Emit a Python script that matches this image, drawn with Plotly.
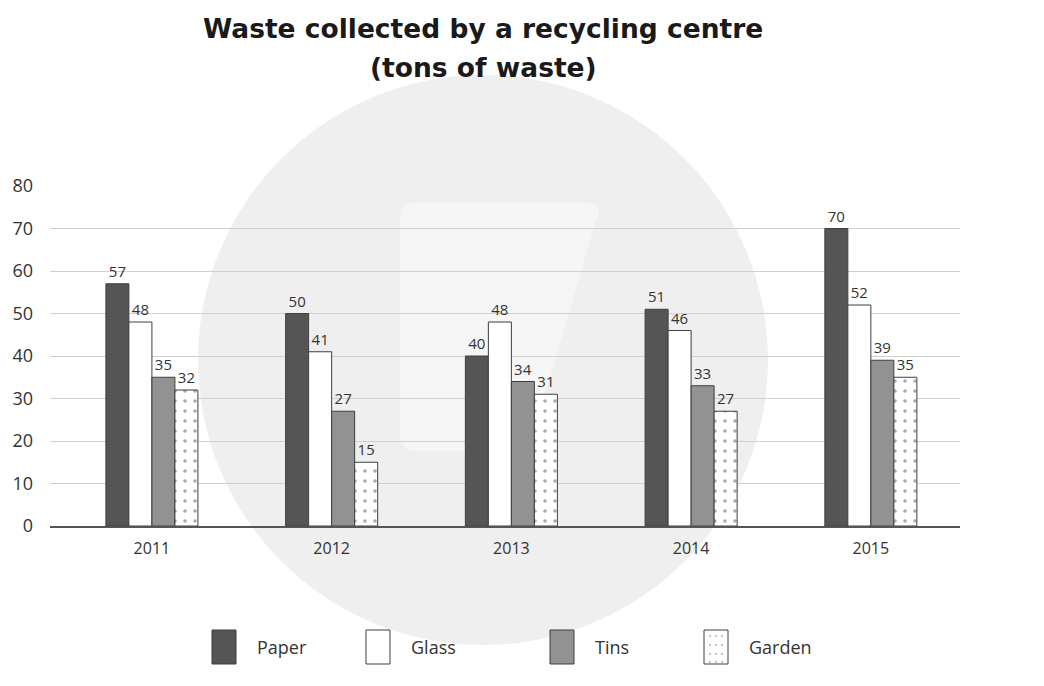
import plotly.graph_objects as go

years = ["2011", "2012", "2013", "2014", "2015"]
paper = [57, 50, 40, 51, 70]
glass = [48, 41, 48, 46, 52]
tins = [35, 27, 34, 33, 39]
garden = [32, 15, 31, 27, 35]
y_ticks = [0, 10, 20, 30, 40, 50, 60, 70, 80]
series_names = ["Paper", "Glass", "Tins", "Garden"]

W, H = 1044, 686
L, R, T, B = 50, 84, 186, 160
PW, PH = W - L - R, H - T - B


def px(x):
    return (x - L) / PW


def py(y):
    return (H - B - y) / PH


fig = go.Figure()
outline = dict(color="#3f3f3f", width=1)
dot_pattern = dict(shape=".", fgcolor="#555555", bgcolor="#ffffff", size=10, solidity=0.1)
markers = [
    dict(color="#555555", line=outline),
    dict(color="#ffffff", line=outline),
    dict(color="#929292", line=outline),
    dict(color="#ffffff", line=outline, pattern=dot_pattern),
]
for name, vals, marker in zip(series_names, [paper, glass, tins, garden], markers):
    fig.add_trace(go.Bar(
        name=name, x=years, y=vals, marker=marker,
        text=[str(v) for v in vals], textposition="outside",
        textfont=dict(family="Open Sans", size=15, color="#333333"),
        cliponaxis=False, showlegend=False,
    ))

# faint watermark circle in background
fig.add_shape(type="circle", xref="paper", yref="paper",
              x0=px(198), x1=px(768), y0=py(645), y1=py(75),
              fillcolor="#efefef", line=dict(width=0), layer="below")
fig.add_shape(type="path", xref="paper", yref="paper",
              path="M 0.40,0.95 L 0.59,0.95 Q 0.61,0.95 0.60,0.90 L 0.53,0.26 Q 0.52,0.22 0.49,0.22 L 0.41,0.22 Q 0.385,0.22 0.385,0.26 L 0.385,0.91 Q 0.385,0.95 0.40,0.95 Z",
              fillcolor="#f6f6f6", line=dict(width=0), layer="below")

# title as two centred lines
title_font = dict(family="DejaVu Sans", size=26.5, color="#1a1a1a")
fig.add_annotation(text="<b>Waste collected by a recycling centre</b>", xref="paper", yref="paper",
                   x=px(483), y=py(28), xanchor="center", yanchor="middle", showarrow=False,
                   font=title_font)
fig.add_annotation(text="<b>(tons of waste)</b>", xref="paper", yref="paper",
                   x=px(483), y=py(68), xanchor="center", yanchor="middle", showarrow=False,
                   font=title_font)

# custom legend with large swatches
legend_x = [212, 366, 550, 704]
leg_fill = ["#555555", "#ffffff", "#929292", "#ffffff"]
sw_w, sw_top, sw_bot = 24, 630, 664
for name, x0, fill in zip(series_names, legend_x, leg_fill):
    fig.add_shape(type="rect", xref="paper", yref="paper",
                  x0=px(x0), x1=px(x0 + sw_w), y0=py(sw_bot), y1=py(sw_top),
                  fillcolor=fill, line=dict(color="#3f3f3f", width=1))
    fig.add_annotation(text=name, xref="paper", yref="paper",
                       x=px(x0 + sw_w + 19), y=py((sw_top + sw_bot) / 2),
                       xanchor="left", yanchor="middle", showarrow=False,
                       font=dict(family="Open Sans", size=18, color="#333333"))
    if name == "Garden":
        for dx in (6, 12, 18):
            for dy in (6, 15, 24, 32):
                fig.add_shape(type="circle", xref="paper", yref="paper",
                              x0=px(x0 + dx - 0.8), x1=px(x0 + dx + 0.8),
                              y0=py(sw_top + dy + 0.8), y1=py(sw_top + dy - 0.8),
                              fillcolor="#777777", line=dict(width=0))

fig.update_layout(
    width=W, height=H,
    margin=dict(l=L, r=R, t=T, b=B),
    paper_bgcolor="#ffffff", plot_bgcolor="rgba(0,0,0,0)",
    barmode="group", bargap=0.488, bargroupgap=0.0,
    font=dict(family="Open Sans", color="#333333"),
    showlegend=False,
)
fig.update_xaxes(range=[-0.567, 4.496], showgrid=False, showline=True, linecolor="#555555",
                 linewidth=2, tickfont=dict(family="Open Sans", size=16, color="#333333"),
                 ticks="", ticklabelstandoff=7)
fig.update_yaxes(range=[0, 80], tickvals=y_ticks, showgrid=True, gridcolor="#d0d0d0",
                 gridwidth=1, zeroline=False, showline=False,
                 tickfont=dict(family="Open Sans", size=18, color="#333333"),
                 ticklabelstandoff=16)

fig.write_html("out.html")
